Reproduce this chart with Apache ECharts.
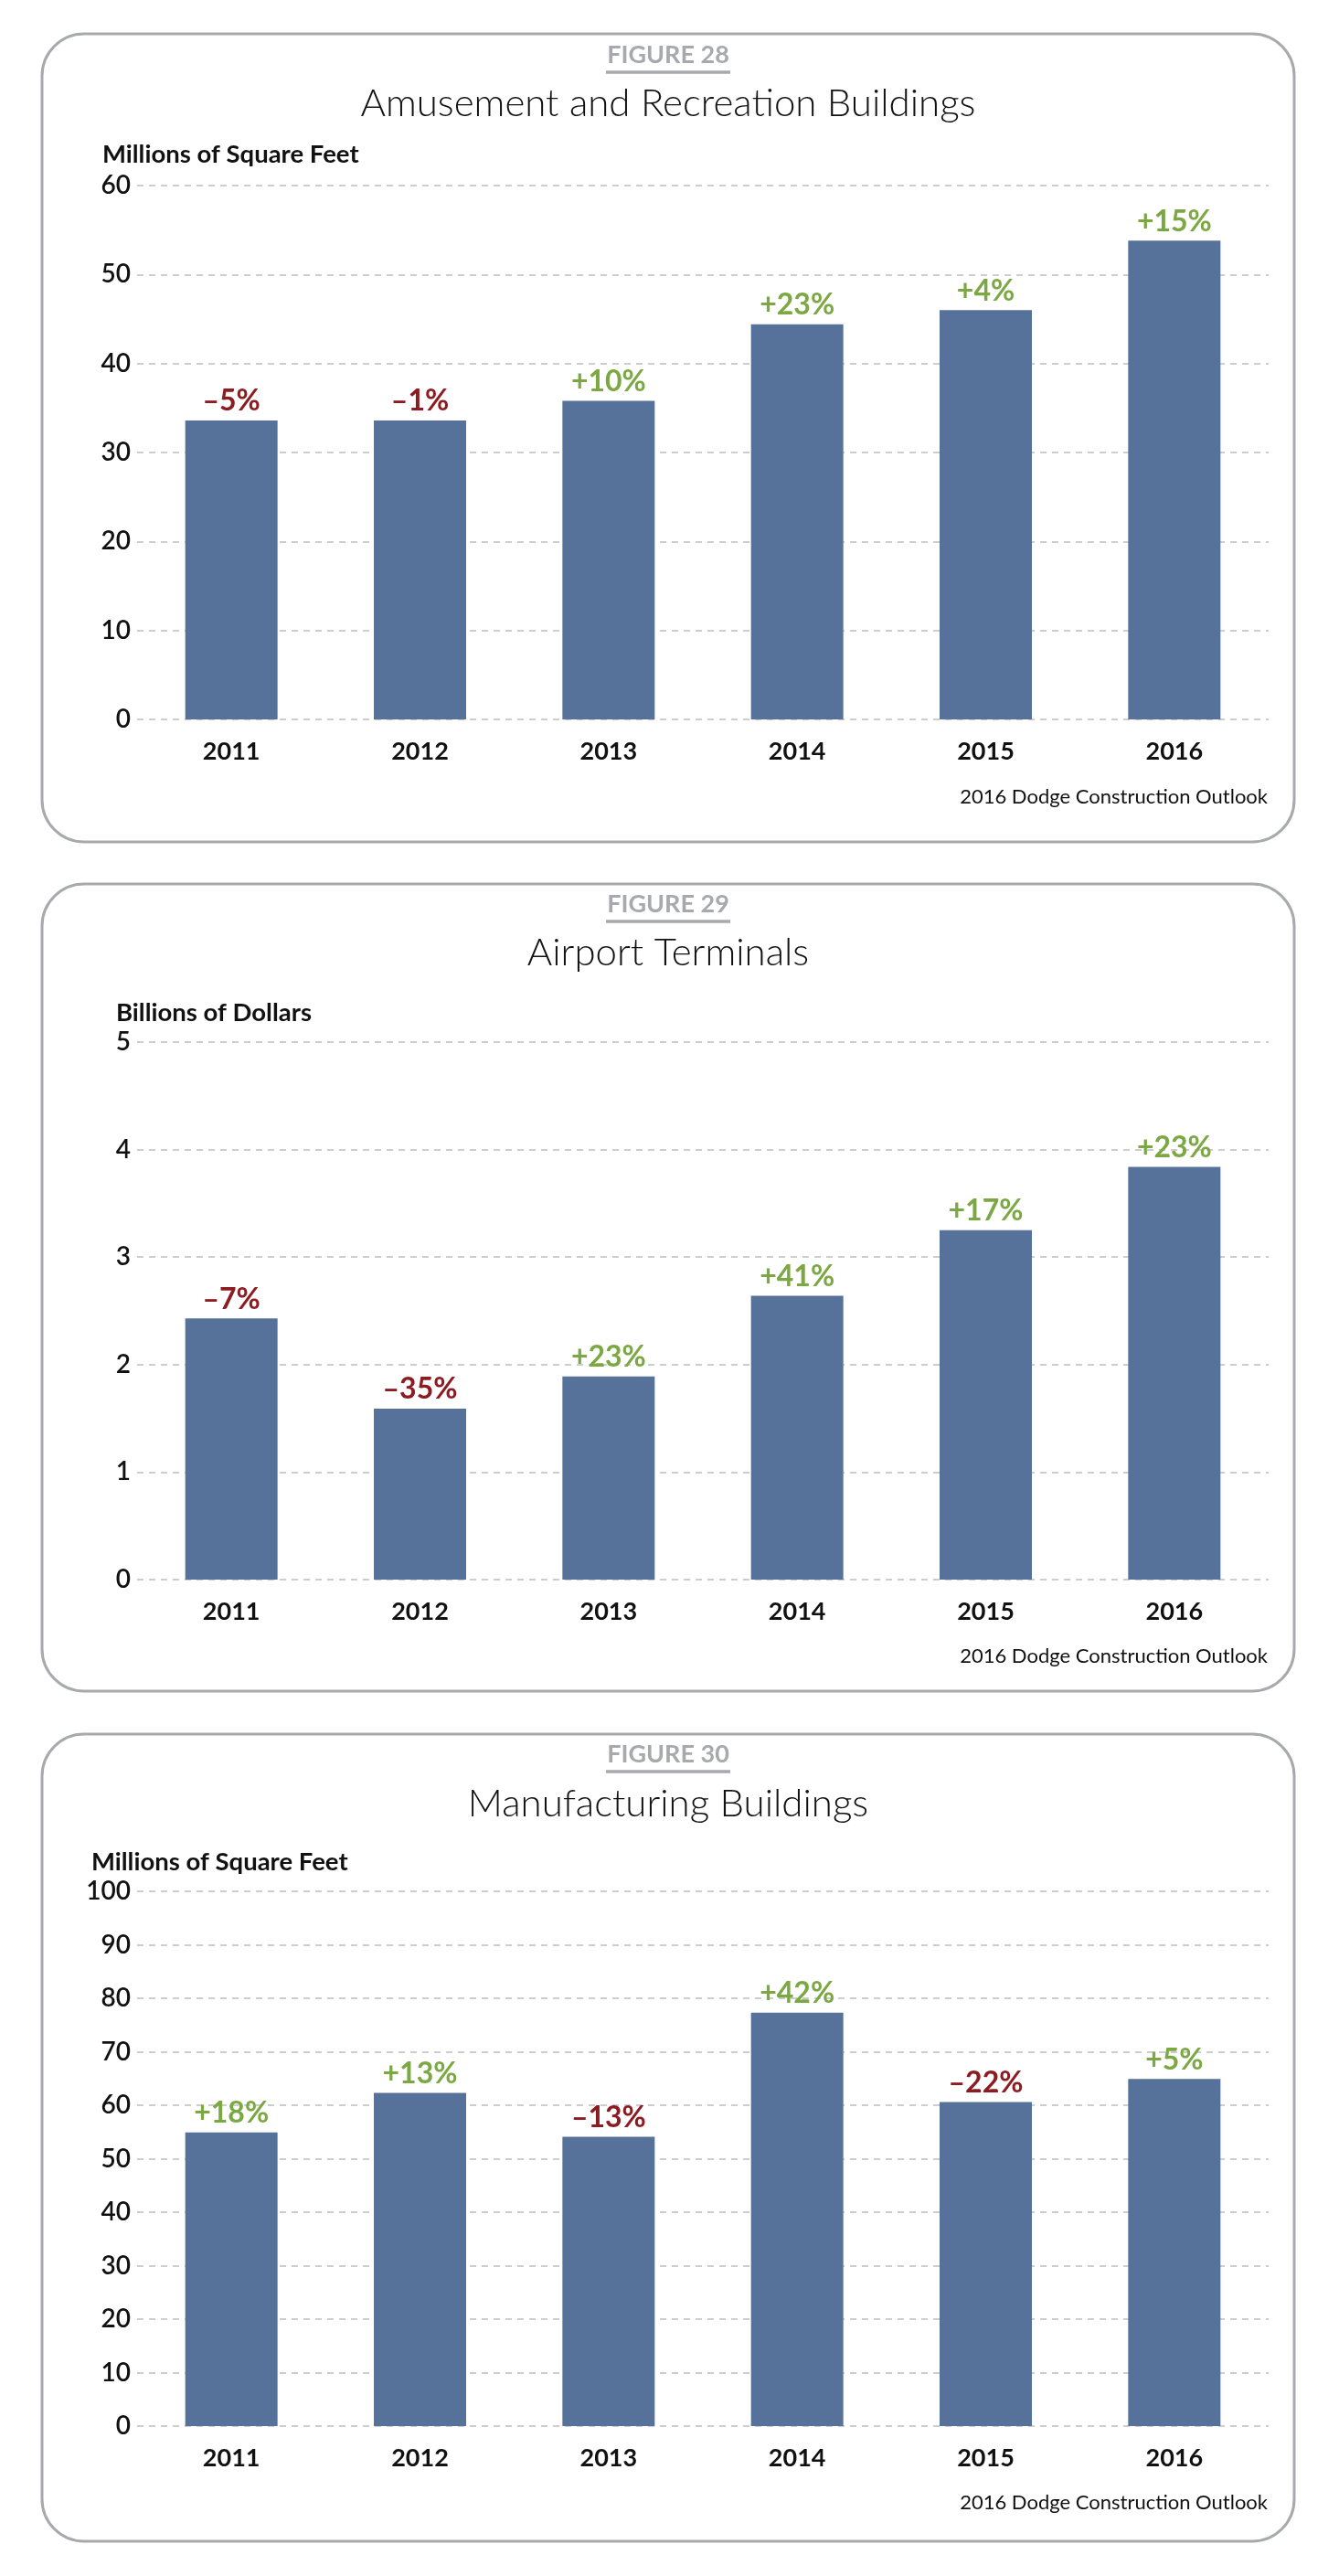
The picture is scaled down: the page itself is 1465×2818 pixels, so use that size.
<!DOCTYPE html>
<html lang="en">
<head>
<meta charset="UTF-8">
<title>Dodge Construction Outlook - Figures 28-30</title>
<script src="https://cdn.jsdelivr.net/npm/echarts@6/dist/echarts.min.js"></script>
<style>
  html, body { margin: 0; padding: 0; background: #fff; }
  #chart { width: 1465px; height: 2818px; }
</style>
</head>
<body>
<div id="chart"></div>
<script>
// data
var years = ['2011', '2012', '2013', '2014', '2015', '2016'];

var amusementValues = [33.6, 33.6, 35.8, 44.4, 46.0, 53.8];
var amusementChanges = ['–5%', '–1%', '+10%', '+23%', '+4%', '+15%'];

var airportValues = [2.43, 1.59, 1.89, 2.64, 3.25, 3.84];
var airportChanges = ['–7%', '–35%', '+23%', '+41%', '+17%', '+23%'];

var manufacturingValues = [54.9, 62.3, 54.1, 77.3, 60.6, 64.9];
var manufacturingChanges = ['+18%', '+13%', '–13%', '+42%', '–22%', '+5%'];

var FONT = 'Lato, "Source Sans Pro", Roboto, sans-serif';
var BAR = '#57729a';
var RED = '#8c1c21';
var GREEN = '#7ba843';
var GREY = '#a7a9ac';

// one entry per boxed figure; y positions in page pixels
var panels = [
  { fig: 'FIGURE 28', title: 'Amusement and Recreation Buildings', unit: 'Millions of Square Feet',
    values: amusementValues, changes: amusementChanges, max: 60, interval: 10,
    box: [37, 921], figY: 60, lineY: 79, titleY: 113, unitX: 112, unitY: 169,
    top: 203, zero: 787, sourceY: 872 },
  { fig: 'FIGURE 29', title: 'Airport Terminals', unit: 'Billions of Dollars',
    values: airportValues, changes: airportChanges, max: 5, interval: 1,
    box: [967, 1850], figY: 989, lineY: 1008, titleY: 1042, unitX: 127, unitY: 1108,
    top: 1140, zero: 1728, sourceY: 1812 },
  { fig: 'FIGURE 30', title: 'Manufacturing Buildings', unit: 'Millions of Square Feet',
    values: manufacturingValues, changes: manufacturingChanges, max: 100, interval: 10,
    box: [1897, 2780], figY: 1919, lineY: 1938, titleY: 1973, unitX: 100, unitY: 2037,
    top: 2069, zero: 2654, sourceY: 2738 }
];

var grids = [], xAxes = [], yAxes = [], series = [], graphics = [];

panels.forEach(function (p, i) {
  // rounded frame
  graphics.push({
    type: 'rect', z: 0,
    shape: { x: 46, y: p.box[0], width: 1370, height: p.box[1] - p.box[0], r: 46 },
    style: { fill: '#fff', stroke: GREY, lineWidth: 3 }
  });
  graphics.push({
    type: 'text', z: 5, x: 731, y: p.figY,
    style: { text: p.fig, font: 'bold 27px ' + FONT, fill: GREY, textAlign: 'center', textVerticalAlign: 'middle' }
  });
  graphics.push({
    type: 'line', z: 5,
    shape: { x1: 663, y1: p.lineY, x2: 799, y2: p.lineY },
    style: { stroke: GREY, lineWidth: 3.5 }
  });
  graphics.push({
    type: 'text', z: 5, x: 731, y: p.titleY,
    style: { text: p.title, font: '300 42px ' + FONT, fill: '#111', textAlign: 'center', textVerticalAlign: 'middle' }
  });
  graphics.push({
    type: 'text', z: 5, x: p.unitX, y: p.unitY,
    style: { text: p.unit, font: 'bold 27.5px ' + FONT, fill: '#111', textAlign: 'left', textVerticalAlign: 'middle' }
  });
  graphics.push({
    type: 'text', z: 5, x: 1387, y: p.sourceY,
    style: { text: '2016 Dodge Construction Outlook', font: '22px ' + FONT, fill: '#111', textAlign: 'right', textVerticalAlign: 'middle' }
  });

  grids.push({ left: 150, width: 1238, top: p.top, height: p.zero - p.top, containLabel: false });

  xAxes.push({
    type: 'category', gridIndex: i, data: years,
    axisLine: { show: false }, axisTick: { show: false },
    axisLabel: { margin: 22, color: '#111', fontFamily: FONT, fontWeight: 'bold', fontSize: 27 }
  });

  yAxes.push({
    type: 'value', gridIndex: i, min: 0, max: p.max, interval: p.interval,
    axisLine: { show: false }, axisTick: { show: false },
    axisLabel: { margin: 7, color: '#111', fontFamily: FONT, fontWeight: 600, fontSize: 28 },
    splitLine: { lineStyle: { color: '#bdbdbd', width: 1.5, type: [7, 6] } }
  });

  series.push({
    type: 'bar', xAxisIndex: i, yAxisIndex: i, barWidth: 101,
    itemStyle: { color: BAR },
    label: {
      show: true, position: 'top', distance: 5,
      fontFamily: FONT, fontWeight: 'bold', fontSize: 32,
      formatter: function (params) { return p.changes[params.dataIndex]; }
    },
    data: p.values.map(function (v, k) {
      var neg = p.changes[k].charAt(0) !== '+';
      return { value: v, label: { color: neg ? RED : GREEN } };
    })
  });
});

var chart = echarts.init(document.getElementById('chart'), null, { renderer: 'canvas' });
chart.setOption({
  animation: false,
  backgroundColor: '#fff',
  graphic: { elements: graphics },
  grid: grids,
  xAxis: xAxes,
  yAxis: yAxes,
  series: series
});
</script>
</body>
</html>
